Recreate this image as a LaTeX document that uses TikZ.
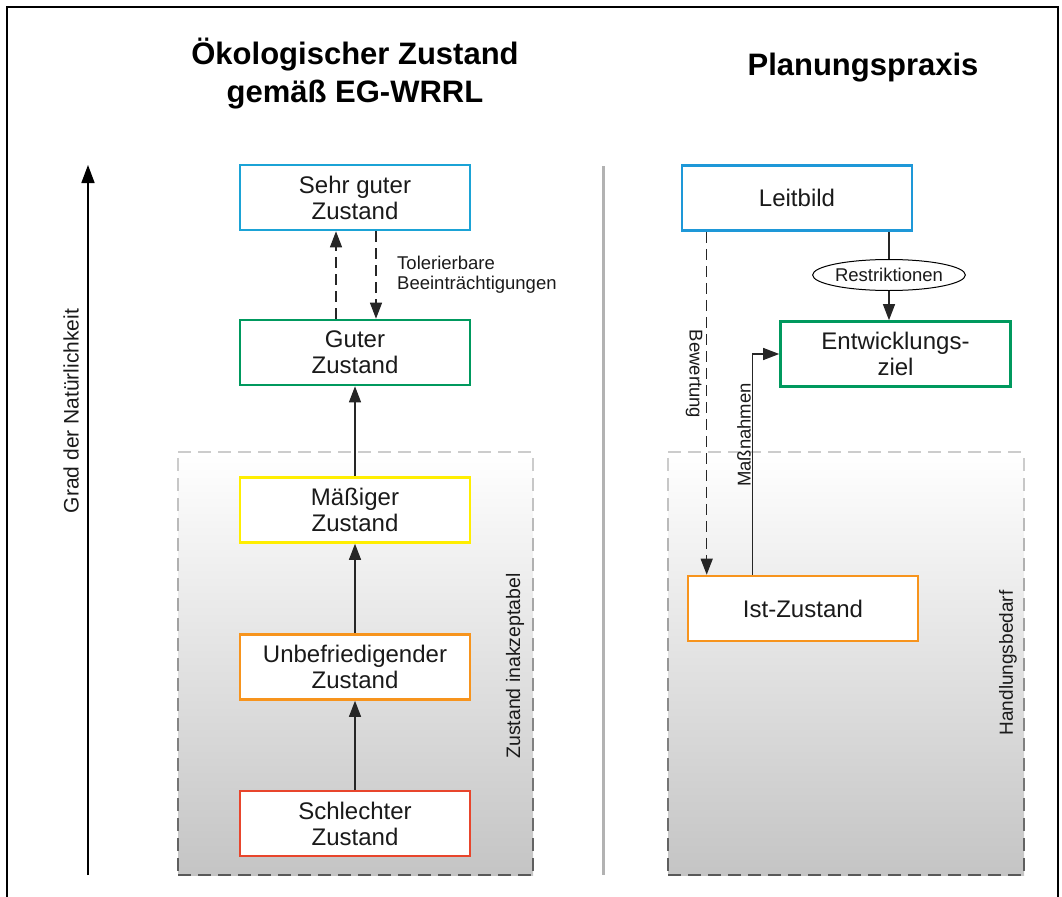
\documentclass[tikz,border=0pt]{standalone}
\usepackage{fontspec}
\setmainfont{Liberation Sans}
\usetikzlibrary{arrows.meta,shapes.geometric,calc}
\definecolor{cblue}{HTML}{1BA3D6}
\definecolor{lblue}{HTML}{1E98D8}
\definecolor{cgreen}{HTML}{00995E}
\definecolor{cyellow}{HTML}{FFEE00}
\definecolor{corange}{HTML}{F7941D}
\definecolor{cred}{HTML}{E8452C}
\definecolor{txt}{HTML}{1A1A1A}
\begin{document}
\begin{tikzpicture}[x=1bp,y=-1bp,
  box/.style={draw=#1, line width=2.6bp, fill=white, minimum width=230bp, minimum height=65bp,
    align=center, inner sep=0pt, text=txt, font=\fontsize{24bp}{26bp}\selectfont},
  conn/.style={line width=1.2bp, draw=black!85, -{Triangle[width=12bp,length=16bp]}},
  dconn/.style={conn, dash pattern=on 11bp off 6bp},
  lbl/.style={font=\fontsize{18.5bp}{20bp}\selectfont, inner sep=0pt, text=txt},
  ttl/.style={font=\fontsize{31bp}{38bp}\selectfont\bfseries, align=center, inner sep=0pt},
  zone/.style={top color=white, bottom color=black!23, draw=none}]
\useasboundingbox (0,0) rectangle (1062,897);
% frame
\draw[line width=2bp] (7,905) -- (7,7) -- (1058,7) -- (1058,905);
% titles
\node[ttl] (t1) at (355,74) {Ökologischer Zustand\\gemäß EG-WRRL};
\node[ttl] (t2) at (863,68) {Planungspraxis};
% zones
\fill[zone] (178,452) rectangle (533,875);
\fill[zone] (668,452) rectangle (1024,875);
\foreach \xa/\xb in {178/533,668/1024}{
  \draw[black!20, line width=1.5bp, dash pattern=on 13bp off 7bp] (\xa,452) -- (\xb,452);
  \draw[black!65, line width=1.5bp, dash pattern=on 13bp off 7bp] (\xa,875) -- (\xb,875);
  \foreach \yy in {458,478,...,858}{
    \pgfmathsetmacro\cc{int(20+(\yy-452)/423*45)}
    \draw[black!\cc, line width=1.5bp] (\xa,\yy) -- (\xa,\yy+13);
    \draw[black!\cc, line width=1.5bp] (\xb,\yy) -- (\xb,\yy+13);
  }
}
% separator
\coordinate (sepT) at (603,166);
\coordinate (sepB) at (603,875);
\draw[black!30, line width=3bp] (sepT) -- (sepB);
% axis
\coordinate (axB) at (88,875);
\coordinate (axT) at (88,165);
\draw[line width=1.6bp, -{Triangle[width=13bp,length=18bp]}] (axB) -- (axT);
\node[font=\fontsize{21bp}{24bp}\selectfont, rotate=90, text=txt, inner sep=0pt] (axl) at (71,411) {Grad der Natürlichkeit};
% left boxes
\node[box=cblue] (sehr) at (355,197.5) {Sehr guter\\Zustand};
\node[box=cgreen] (gut) at (355,352.5) {Guter\\Zustand};
\node[box=cyellow] (mae) at (355,510) {Mäßiger\\Zustand};
\node[box=corange] (unb) at (355,667) {Unbefriedigender\\Zustand};
\node[box=cred] (schl) at (355,823.5) {Schlechter\\Zustand};
\draw[conn] (schl) -- (unb);
\draw[conn] (unb) -- (mae);
\draw[conn] (mae) -- (gut);
\draw[dconn] ($(gut.north)+(-19,0)$) -- ($(sehr.south)+(-19,0)$);
\draw[dconn] ($(sehr.south)+(21,0)$) -- ($(gut.north)+(21,0)$);
\node[lbl, anchor=west, align=left] (tol) at (397,275) {Tolerierbare\\Beeinträchtigungen};
\node[lbl, rotate=90, font=\fontsize{19.5bp}{20bp}\selectfont] (inak) at (515,666) {Zustand inakzeptabel};
% right boxes
\node[box=lblue] (leit) at (797,198) {Leitbild};
\node[box=cgreen] (ziel) at (895.5,354) {Entwicklungs-\\ziel};
\node[box=corange] (ist) at (803,608.5) {Ist-Zustand};
\node[lbl, draw, ellipse, line width=1bp, fill=white, minimum width=152bp, minimum height=31bp] (restr) at (889,275) {Restriktionen};
\draw[line width=1.2bp, black!85] (leit.south -| restr.north) -- (restr.north);
\draw[conn] (restr.south) -- (restr.south |- ziel.north);
\draw[dconn] ($(leit.south west)+(26,0)$) -- ($(ist.north west)+(20,0)$);
\draw[conn] ($(ist.north west)+(66,0)$) |- (ziel.west);
\node[lbl, rotate=-90] (bew) at (694,374) {Bewertung};
\node[lbl, rotate=90] (mass) at (744,435) {Maßnahmen};
\node[lbl, rotate=90, font=\fontsize{19bp}{20bp}\selectfont] (hand) at (1008,663) {Handlungsbedarf};
\end{tikzpicture}
\end{document}
